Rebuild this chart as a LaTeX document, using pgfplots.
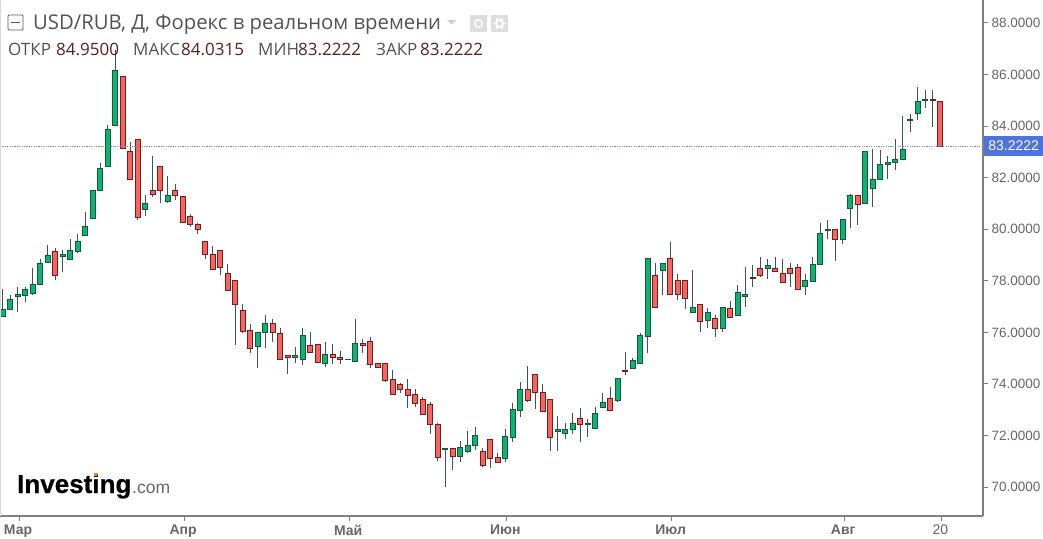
\documentclass[border=0pt]{standalone}
\usepackage{pgfplots}
\usepackage{pgfplotstable}
\usepackage{fontspec}
\pgfplotsset{compat=1.18}
\setmainfont{Liberation Sans}
\newfontfamily\headfont{Open Sans}
\newfontfamily\wmfont[BoldFeatures={FakeBold=0.5}]{Liberation Sans}
\definecolor{gfill}{HTML}{0DB46E}
\definecolor{gline}{HTML}{17573F}
\definecolor{rfill}{HTML}{F9635B}
\definecolor{rline}{HTML}{6E1F1F}
\definecolor{wickc}{HTML}{37584C}
\definecolor{axisc}{HTML}{7F7F7F}
\definecolor{ticktxt}{HTML}{666666}
\definecolor{valc}{HTML}{5B1E1E}
\definecolor{pricec}{HTML}{4C74DC}
\definecolor{linec}{HTML}{6F86C4}
\pgfplotstableread{
i c hi top bot lo
0 0 77.67 76.87 76.63 76.61
1 0 77.45 77.28 76.89 76.87
2 0 77.77 77.47 77.41 76.80
3 0 77.77 77.67 77.42 77.19
4 0 78.51 77.86 77.51 77.45
5 0 78.84 78.68 77.86 77.83
6 0 79.39 78.97 78.71 78.70
7 1 79.26 79.13 78.22 78.03
8 0 79.19 79.03 78.96 78.35
9 0 79.61 79.17 78.83 78.81
10 0 79.80 79.52 79.15 79.06
11 0 80.68 80.09 79.75 79.74
12 0 81.52 81.50 80.42 80.41
13 0 82.58 82.36 81.50 81.47
14 0 84.04 83.87 82.45 82.44
15 0 86.95 86.15 84.02 83.99
16 1 85.92 85.92 83.14 83.12
17 1 83.40 83.00 81.93 81.91
18 1 83.49 83.49 80.46 80.36
19 0 81.31 81.00 80.77 80.51
20 1 82.83 81.51 81.33 81.26
21 1 82.43 82.43 81.50 81.00
22 0 82.06 81.30 81.09 81.03
23 1 81.74 81.51 81.30 81.13
24 1 81.26 81.26 80.27 80.25
25 1 80.59 80.49 80.18 80.07
26 1 80.25 80.19 79.98 79.81
27 1 79.52 79.52 79.01 78.86
28 1 79.35 79.03 78.43 78.42
29 1 79.17 79.17 78.51 78.22
30 1 78.65 78.30 77.62 77.60
31 1 78.00 78.00 77.07 75.51
32 1 77.09 76.84 76.04 75.96
33 1 76.32 76.07 75.38 75.21
34 0 76.03 76.01 75.47 74.63
35 0 76.67 76.35 76.00 75.41
36 1 76.50 76.35 76.00 75.64
37 1 76.18 75.96 74.95 74.93
38 1 75.10 75.10 75.03 74.38
39 0 75.44 75.10 75.03 74.80
40 0 76.18 75.87 74.95 74.73
41 1 76.03 75.48 75.22 75.21
42 1 75.53 75.53 74.84 74.80
43 0 75.64 75.15 74.80 74.67
44 1 75.53 75.13 75.03 74.77
45 1 75.29 75.04 74.95 74.77
46 0 74.95 74.95 74.93 74.91
47 0 76.52 75.57 74.89 74.86
48 1 75.73 75.57 75.48 75.21
49 1 75.83 75.64 74.76 74.63
50 1 74.82 74.80 74.64 74.60
51 1 74.82 74.81 74.15 74.09
52 1 74.54 74.18 73.58 73.56
53 1 74.05 73.98 73.78 73.66
54 1 74.18 73.79 73.57 73.08
55 1 73.79 73.58 73.23 73.12
56 1 73.51 73.40 72.81 72.78
57 1 73.31 73.21 72.42 72.06
58 1 72.50 72.43 71.15 71.02
59 0 71.50 71.50 71.45 70.01
60 1 71.50 71.49 71.20 70.66
61 0 71.80 71.55 71.20 70.98
62 0 72.17 71.60 71.40 71.33
63 0 72.34 71.99 71.60 71.44
64 1 71.50 71.37 70.85 70.79
65 1 71.85 71.85 71.11 70.75
66 1 71.33 71.13 70.94 70.92
67 0 72.24 71.95 71.10 70.98
68 0 73.27 73.01 71.93 71.76
69 0 74.09 73.79 72.99 72.73
70 1 74.69 73.79 73.37 73.31
71 1 74.37 74.37 73.67 73.03
72 1 74.00 73.65 72.95 72.94
73 1 73.40 73.40 71.93 71.41
74 0 72.75 72.24 72.17 71.41
75 0 72.49 72.24 72.07 71.86
76 0 72.88 72.47 72.22 72.06
77 1 73.08 72.66 72.42 71.76
78 0 72.64 72.48 72.43 71.95
79 0 73.12 72.87 72.26 72.25
80 0 73.66 73.30 73.09 73.08
81 1 73.89 73.44 72.99 72.97
82 0 74.24 74.23 73.37 73.31
83 1 75.25 74.53 74.49 74.33
84 0 75.02 74.90 74.60 74.59
85 0 75.99 75.87 74.80 74.78
86 0 78.88 78.87 75.86 75.21
87 1 78.70 78.20 76.97 76.96
88 0 78.69 78.68 78.42 77.45
89 1 79.52 78.87 77.47 77.46
90 1 78.26 78.00 77.46 77.25
91 1 78.00 78.00 77.32 76.91
92 0 78.42 76.98 76.78 76.76
93 1 77.07 77.07 76.44 76.00
94 0 76.96 76.79 76.45 76.17
95 1 76.67 76.54 76.16 75.83
96 0 76.98 76.97 76.14 76.03
97 1 77.20 76.93 76.58 76.54
98 0 77.84 77.56 76.65 76.63
99 0 78.52 77.46 77.41 77.00
100 1 78.61 78.12 78.08 77.77
101 1 78.94 78.48 78.19 78.16
102 0 78.84 78.60 78.47 78.07
103 1 78.94 78.48 78.38 78.35
104 1 78.84 78.29 77.94 77.93
105 1 78.70 78.48 78.29 77.77
106 1 78.64 78.53 77.65 77.64
107 0 78.26 78.00 77.80 77.45
108 0 78.94 78.64 77.99 77.98
109 0 80.25 79.85 78.62 78.61
110 0 80.36 80.00 79.96 79.63
111 1 80.00 79.98 79.59 78.77
112 0 80.38 80.37 79.59 79.44
113 0 81.35 81.31 80.81 80.03
114 1 81.33 81.30 80.95 80.15
115 0 83.02 83.01 81.00 80.99
116 0 83.11 81.92 81.59 80.87
117 0 83.07 82.52 81.92 81.91
118 0 82.84 82.61 82.50 81.95
119 0 83.49 82.70 82.60 82.30
120 0 84.39 83.09 82.70 82.69
121 0 84.47 84.25 84.21 83.78
122 0 85.50 84.94 84.50 84.24
123 0 85.40 85.03 84.99 84.70
124 1 85.40 85.03 84.99 83.98
125 1 84.95 84.95 83.2222 83.2222
}\candles
\pgfplotsset{
  body0/.style={fill=gfill,draw=gline,line width=0.9pt},
  body1/.style={fill=rfill,draw=rline,line width=0.9pt},
  wick0/.style={draw=wickc,line width=1pt},
  wick1/.style={draw=wickc,line width=1pt},
}
\begin{document}
\begin{tikzpicture}[x=1pt,y=1pt]
\path[use as bounding box] (0,-22) rectangle (1043,516);
\begin{axis}[
  at={(0pt,0pt)},anchor=south west,
  scale only axis,width=983pt,height=516pt,
  xmin=-0.356,xmax=130.71,ymin=68.877,ymax=88.892,
  axis x line=bottom,axis y line=right,
  axis line style={draw=axisc,line width=1.4pt,-},
  tick style={draw=axisc,line width=1pt},
  tick align=outside,major tick length=5pt,
  ytick={70,72,...,88},
  xtick={2.18,24.2,46.2,67.15,89.2,112.2,125.15},
  xticklabels={\textbf{Мар},\textbf{Апр},\textbf{Май},\textbf{Июн},\textbf{Июл},\textbf{Авг},20},
  x tick label style={font=\fontsize{14}{15}\selectfont,text=ticktxt,xshift=-1pt,yshift=-0.5pt},
  y tick label style={font=\fontsize{13.5}{15}\selectfont,text=ticktxt},
  yticklabel style={/pgf/number format/.cd,fixed,fixed zerofill,precision=4,assume math mode=true},
]
\pgfplotsforeachungrouped \n in {0,...,125}{
  \pgfplotstablegetelem{\n}{c}\of\candles \let\C=\pgfplotsretval
  \pgfplotstablegetelem{\n}{hi}\of\candles \let\H=\pgfplotsretval
  \pgfplotstablegetelem{\n}{top}\of\candles \let\T=\pgfplotsretval
  \pgfplotstablegetelem{\n}{bot}\of\candles \let\B=\pgfplotsretval
  \pgfplotstablegetelem{\n}{lo}\of\candles \let\L=\pgfplotsretval
  \pgfmathsetmacro\xl{\n-0.35}
  \pgfmathsetmacro\xr{\n+0.35}
  \edef\doit{\noexpand\addplot[wick\C] coordinates {(\n,\H)(\n,\L)};
    \noexpand\addplot[body\C] coordinates {(\xl,\T)(\xr,\T)(\xr,\B)(\xl,\B)} --cycle;}
  \doit
}
\addplot[draw=linec,line width=1pt,dash pattern=on 1.2pt off 1.2pt] coordinates {(-0.356,83.2222)(130.71,83.2222)};
\end{axis}
% left border
\draw[draw=black!15,line width=1.5pt] (0.5,0) -- (0.5,516);
% price label
\node[fill=pricec,text=white,anchor=west,inner sep=0pt,minimum width=60pt,minimum height=20pt,font=\fontsize{14}{15}\selectfont] at (983.5,370) {83.2222};
% header
\draw[draw=black!65,line width=0.9pt,rounded corners=1pt] (8,501) rectangle (23,486);
\draw[draw=black!65,line width=0.9pt] (11,493.5) -- (20,493.5);
\node[anchor=base west,inner sep=0pt,text=black!68,font=\headfont\fontsize{20.3}{22}\selectfont] at (33,486.5) {USD/RUB, Д, Форекс в реальном времени};
\fill[black!20] (447,496) -- (456,496) -- (451.5,491.5) -- cycle;
\fill[black!13] (470,501) rectangle (487,484);
\draw[white,line width=1.3pt] (478.5,492.5) circle (3.8);
\fill[black!13] (491,501) rectangle (508,484);
\draw[white,line width=2pt] (499.5,492.5) circle (3.6);
\foreach \a in {0,60,...,300}{\draw[white,line width=1.6pt] (499.5,492.5) ++(\a:3.5) -- ++(\a:2.6);}
\def\lab#1#2{\node[anchor=base west,inner sep=0pt,text=#2,font=\headfont\fontsize{17}{19}\selectfont] at #1}
\lab{(8,460)}{black!68}{ОТКР};
\lab{(56,460)}{valc}{84.9500};
\lab{(133,460)}{black!68}{МАКС};
\lab{(181,460)}{valc}{84.0315};
\lab{(258,460)}{black!68}{МИН};
\lab{(298,460)}{valc}{83.2222};
\lab{(376,460)}{black!68}{ЗАКР};
\lab{(420,460)}{valc}{83.2222};
% watermark
\node[anchor=base west,inner sep=0pt,font=\wmfont\fontsize{26}{28}\selectfont\bfseries] at (17,23) {Investing};
\node[anchor=base west,inner sep=0pt,text=black!60,font=\fontsize{17.5}{19}\selectfont] at (132,23) {.com};
\fill[orange!90!yellow] (93.5,40) rectangle (97,43.5);
\end{tikzpicture}
\end{document}
